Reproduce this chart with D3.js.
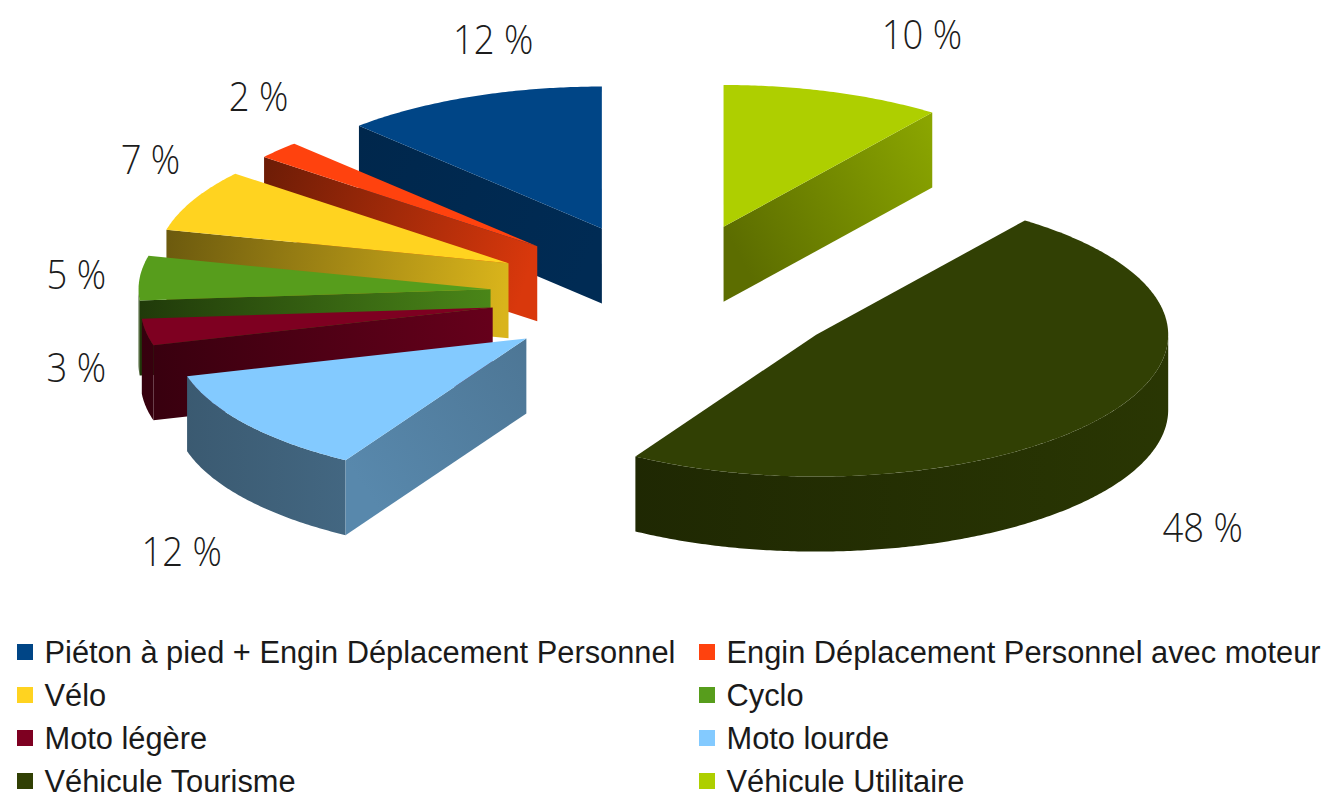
<!DOCTYPE html>
<html>
<head>
<meta charset="utf-8" />
<title>Répartition par catégorie d'usager</title>
<script src="https://cdn.jsdelivr.net/npm/d3@7"></script>
<style>
body { margin: 0; background: #fff; }
.pct { font-family: "Open Sans", sans-serif; font-weight: 300; font-size: 40px; fill: #1c1c1c; }
.legend text { font-family: "Liberation Sans", Arial, sans-serif; font-size: 30.8px; fill: #1a1a1a; }
</style>
</head>
<body>
<script>
var categories = ["Piéton à pied + Engin Déplacement Personnel", "Engin Déplacement Personnel avec moteur",
                  "Vélo", "Cyclo", "Moto légère", "Moto lourde", "Véhicule Tourisme", "Véhicule Utilitaire"];
var values = [12, 2, 7, 5, 3, 12, 48, 10];
var colors = ["#004586", "#ff420e", "#ffd320", "#579d1c", "#7e0021", "#83caff", "#314004", "#aecf00"];

// how much darker (d3 .darker) the visible cut face is at the rim end and at the centre end
var cutShade = [[1.6, 1.3], [2.4, 0.45], [2.4, 0.45], [2.8, 0.45], [2.2, 0.6], [1.1, 1.5], [1.5, 1.5], [0.6, 1.8]];

var width = 1328, height = 798;
var cx = 668, cy = 295,
    radius = 352, tilt = 0.403,
    depth = 75, explode = 178;

var svg = d3.select("body").append("svg")
    .attr("width", width)
    .attr("height", height);
var defs = svg.append("defs");

var pie = d3.pie().sort(null).startAngle(0).endAngle(-2 * Math.PI);

var slices = pie(values).map(function(a, i) {
  var a0 = Math.min(a.startAngle, a.endAngle) + 2 * Math.PI,
      a1 = Math.max(a.startAngle, a.endAngle) + 2 * Math.PI,
      mid = (a0 + a1) / 2;
  return {
    i: i, a0: a0, a1: a1, mid: mid,
    ox: explode * Math.sin(mid),
    oy: -explode * Math.cos(mid) * tilt
  };
});

function pt(s, theta, r, z) {
  return [cx + s.ox + r * Math.sin(theta), cy + s.oy - r * Math.cos(theta) * tilt + z];
}
function arcPts(s, from, to, z) {
  var n = Math.max(2, Math.ceil(Math.abs(to - from) / 0.01));
  return d3.range(n + 1).map(function(k) { return pt(s, from + (to - from) * k / n, radius, z); });
}
var line = d3.line().curve(d3.curveLinearClosed);

function grad(id, p0, p1, c0, c1) {
  var g = defs.append("linearGradient").attr("id", id)
      .attr("gradientUnits", "userSpaceOnUse")
      .attr("x1", p0[0]).attr("y1", p0[1]).attr("x2", p1[0]).attr("y2", p1[1]);
  g.append("stop").attr("offset", "0%").attr("stop-color", c0);
  g.append("stop").attr("offset", "100%").attr("stop-color", c1);
  return "url(#" + id + ")";
}

// back slices first
var order = slices.slice().sort(function(a, b) { return -Math.cos(a.mid) + Math.cos(b.mid); });

var pieG = svg.append("g").attr("class", "pie");

order.forEach(function(s) {
  var base = d3.color(colors[s.i]);
  var g = pieG.append("g");
  var apex = pt(s, 0, 0, 0), apexB = pt(s, 0, 0, depth);

  // outer wall, front half only
  var w0 = Math.max(s.a0, Math.PI / 2), w1 = Math.min(s.a1, 3 * Math.PI / 2);
  if (w1 > w0) {
    var pts = arcPts(s, w0, w1, 0).concat(arcPts(s, w1, w0, depth));
    g.append("path")
      .attr("d", line(pts))
      .attr("fill", grad("wall" + s.i, [cx - radius - explode, 0], [cx + radius + explode, 0],
                         base.darker(2.4), base.darker(0.45)));
  }

  // cut faces turned to the viewer
  [[s.a0, Math.sin(s.a0) < -0.01], [s.a1, Math.sin(s.a1) > 0.01]].forEach(function(f, j) {
    if (!f[1]) return;
    var rim = pt(s, f[0], radius, 0), rimB = pt(s, f[0], radius, depth);
    g.append("path")
      .attr("d", line([apex, rim, rimB, apexB]))
      .attr("fill", grad("cut" + s.i + "_" + j, rim, apex,
                         base.darker(cutShade[s.i][0]), base.darker(cutShade[s.i][1])));
  });

  // top
  g.append("path")
    .attr("d", line([apex].concat(arcPts(s, s.a0, s.a1, 0))))
    .attr("fill", base);
});

// percentage labels: outside ring, front half stretched and skewed a little (perspective)
var labelRx = 626, labelRy = 360, labelBulge = 82, labelSkew = 30,
    labelCx = cx + 30, labelCy = cy + 8;
function labelPos(s) {
  var c = -Math.cos(s.mid);
  return [labelCx + labelRx * Math.sin(s.mid) - labelSkew * c,
          labelCy + labelRy * c + labelBulge * c * c];
}
svg.append("g").selectAll("text")
  .data(slices)
  .join("text")
    .attr("class", "pct")
    .attr("text-anchor", "middle")
    .attr("dy", "0.36em")
    .attr("transform", function(s) {
      var p = labelPos(s);
      return "translate(" + p[0] + "," + p[1] + ") scale(0.91,1)";
    })
    .text(function(s) { return values[s.i] + " %"; });

// legend, two columns
var colX = d3.scalePoint().domain([0, 1]).range([17, 699]);
var rowY = d3.scalePoint().domain([0, 1, 2, 3]).range([652, 781]);

var item = svg.append("g").attr("class", "legend")
  .selectAll("g")
  .data(categories)
  .join("g")
    .attr("transform", function(d, i) {
      return "translate(" + colX(i % 2) + "," + rowY(Math.floor(i / 2)) + ")";
    });
item.append("rect")
    .attr("x", 0).attr("y", -8)
    .attr("width", 16).attr("height", 16)
    .attr("fill", function(d, i) { return colors[i]; });
item.append("text")
    .attr("x", 27.5).attr("y", 10.5)
    .text(function(d) { return d; });
</script>
</body>
</html>
